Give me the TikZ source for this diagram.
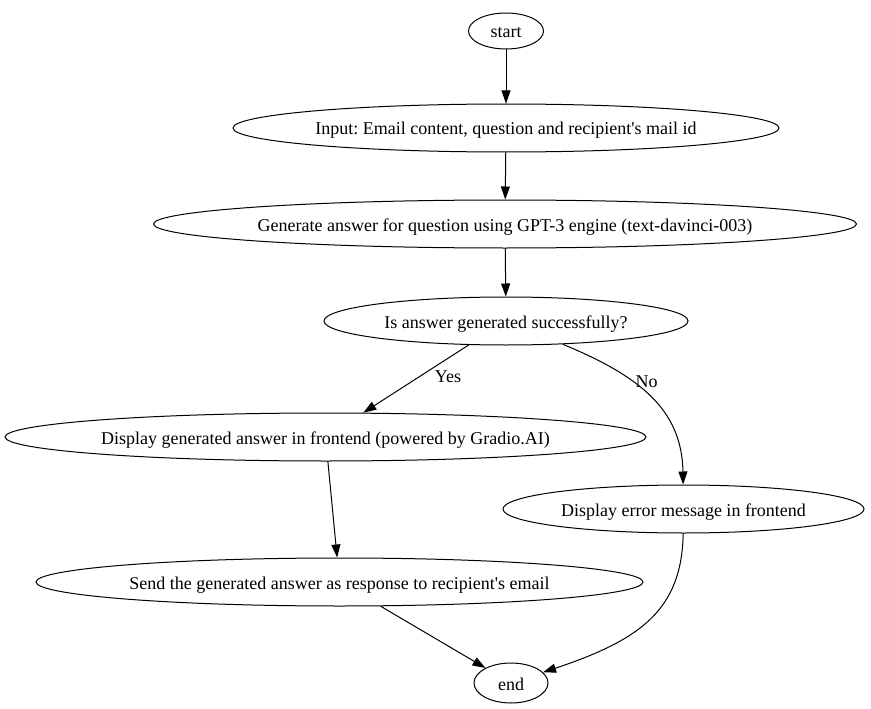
\documentclass[tikz,border=0pt]{standalone}
\usepackage{fontspec}
\setmainfont{Liberation Serif}
\usetikzlibrary{arrows.meta, shapes.geometric}
\frenchspacing
\tikzset{
  stage/.style={% ellipse boxes of the flow
      ellipse, draw,
      line width=1pt,
      inner sep=0pt,
      minimum height=48pt,
      text height=15pt,
      text depth=1pt,
      font=\fontsize{18}{22}\selectfont
  },
  flow/.style={-{Triangle[length=13pt,width=9pt]}, line width=1pt},
  choice/.style={font=\fontsize{18}{22}\selectfont}
}
\newcommand{\txt}[1]{\makebox[0pt]{#1}}% text wider than the ellipse box

\begin{document}
\begin{tikzpicture}[x=1pt,y=-1pt]
  \useasboundingbox (0,0) rectangle (871,709);
  \node[stage, minimum width=75pt, minimum height=36pt] (start) at (506,31) {\txt{start}};
  \node[stage, minimum width=546pt] (input) at (506,128) {\txt{Input: Email content, question and recipient\textquotesingle s mail id}};
  \node[stage, minimum width=703pt] (generate) at (505,224) {\txt{Generate answer for question using GPT-3 engine (text-davinci-003)}};
  \node[stage, minimum width=364pt] (check) at (506,321) {\txt{Is answer generated successfully?}};
  \node[stage, minimum width=641pt] (shown) at (325.5,437) {\txt{Display generated answer in frontend (powered by Gradio.AI)}};
  \node[stage, minimum width=361pt] (error) at (683.5,509) {\txt{Display error message in frontend}};
  \node[stage, minimum width=607pt] (reply) at (339.5,582) {\txt{Send the generated answer as response to recipient\textquotesingle s email}};
  \node[stage, minimum width=74pt, minimum height=40pt] (end) at (511,683) {\txt{end}};

  \draw[flow] (start) -- (input);
  \draw[flow] (input) -- (generate);
  \draw[flow] (generate) -- (check);
  \draw[flow] (check) -- (shown) node[choice, pos=0.5, xshift=32pt, yshift=2pt] {Yes};
  \draw[flow] (check) .. controls (640,376) and (682,410) .. (error)
    node[choice, pos=0.3, xshift=24pt, yshift=-7pt] {No};
  \draw[flow] (shown) -- (reply);
  \draw[flow] (reply) -- (end);
  \draw[flow] (error) .. controls (682,610) and (640,640) .. (end);
\end{tikzpicture}
\end{document}
